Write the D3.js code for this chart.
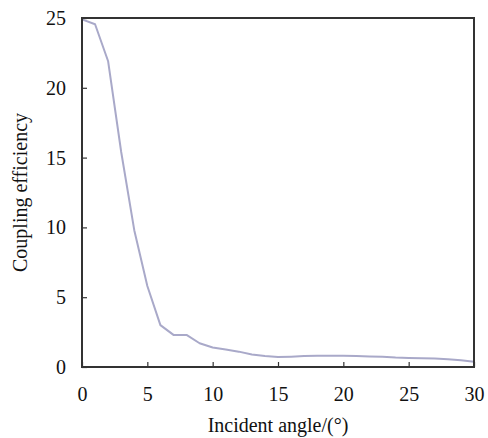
<!DOCTYPE html>
<html>
<head>
<meta charset="utf-8">
<script src="https://cdn.jsdelivr.net/npm/d3@7"></script>
<style>
  body { margin: 0; background: #fff; }
  text { font-family: "Liberation Serif", "Times New Roman", serif; fill: #111; }
</style>
</head>
<body>
<div id="chart"></div>
<script>
// data
const angles = d3.range(0, 31);
const efficiency = [24.9, 24.55, 21.9, 15.4, 9.8, 5.8, 3.0, 2.3, 2.3, 1.7,
                    1.4, 1.25, 1.1, 0.9, 0.78, 0.72, 0.74, 0.78, 0.8, 0.8,
                    0.8, 0.78, 0.76, 0.74, 0.68, 0.65, 0.62, 0.6, 0.56, 0.48, 0.38];
const xTicks = [0, 5, 10, 15, 20, 25, 30];
const yTicks = [0, 5, 10, 15, 20, 25];

const width = 488, height = 438;
const margin = { left: 82, top: 18, right: 14, bottom: 71 };
const innerW = width - margin.left - margin.right;
const innerH = height - margin.top - margin.bottom;

const svg = d3.select("#chart").append("svg")
    .attr("width", width)
    .attr("height", height);

const g = svg.append("g")
    .attr("transform", `translate(${margin.left},${margin.top})`);

const x = d3.scaleLinear().domain([0, 30]).range([0, innerW]);
const y = d3.scaleLinear().domain([0, 25]).range([innerH, 0]);

// data line
const line = d3.line()
    .x((d, i) => x(angles[i]))
    .y(d => y(d));

g.append("path")
    .datum(efficiency)
    .attr("fill", "none")
    .attr("stroke", "#a9a9c9")
    .attr("stroke-width", 2)
    .attr("stroke-linejoin", "round")
    .attr("d", line);

// axes, ticks pointing inward
const xAxis = g.append("g")
    .attr("transform", `translate(0,${innerH})`)
    .call(d3.axisBottom(x).tickValues(xTicks).tickSizeInner(-5).tickSizeOuter(0).tickPadding(20));

const yAxis = g.append("g")
    .call(d3.axisLeft(y).tickValues(yTicks).tickSizeInner(-5).tickSizeOuter(0).tickPadding(16));

[xAxis, yAxis].forEach(a => {
    a.select(".domain").remove();
    a.selectAll("line").attr("stroke", "#333").attr("stroke-width", 1.2);
    a.selectAll("text")
        .attr("font-family", "Liberation Serif, Times New Roman, serif")
        .attr("font-size", 20)
        .attr("fill", "#111");
});

// frame
g.append("rect")
    .attr("width", innerW)
    .attr("height", innerH)
    .attr("fill", "none")
    .attr("stroke", "#333")
    .attr("stroke-width", 2);

// axis titles
svg.append("text")
    .attr("x", margin.left + innerW / 2)
    .attr("y", 432)
    .attr("text-anchor", "middle")
    .attr("font-size", 20)
    .text("Incident angle/(°)");

svg.append("text")
    .attr("transform", `translate(27,${margin.top + innerH / 2}) rotate(-90)`)
    .attr("text-anchor", "middle")
    .attr("font-size", 20)
    .text("Coupling efficiency");
</script>
</body>
</html>
